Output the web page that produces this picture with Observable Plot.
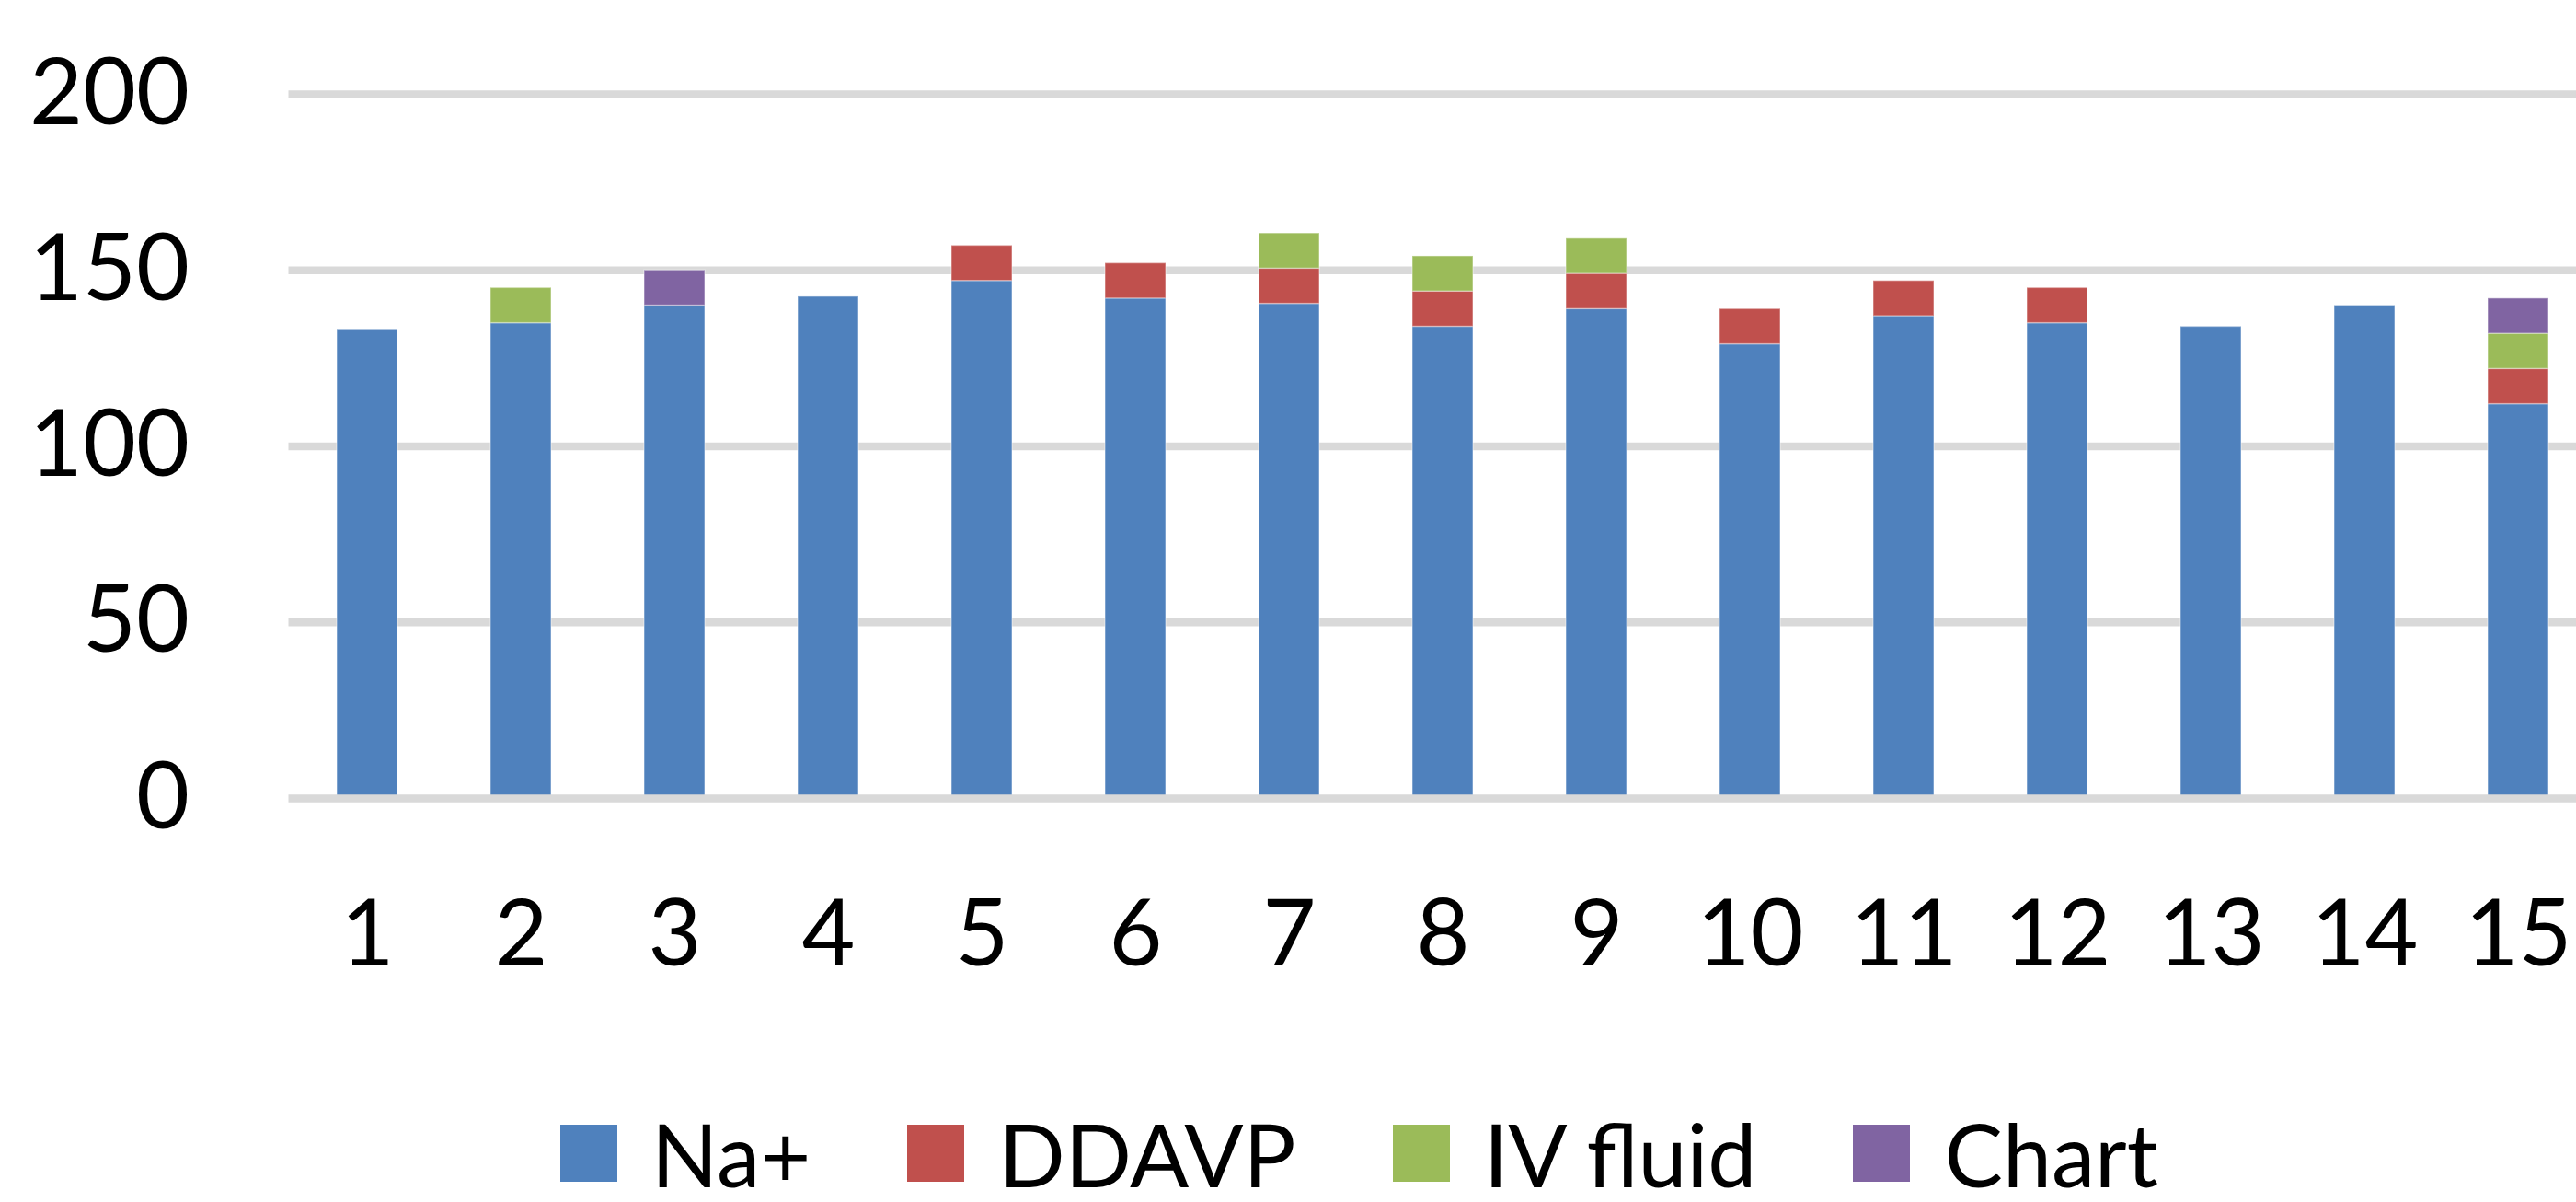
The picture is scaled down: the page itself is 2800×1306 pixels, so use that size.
<!DOCTYPE html>
<html>
<head>
<meta charset="utf-8">
<script src="https://cdn.jsdelivr.net/npm/d3@7"></script>
<script src="https://cdn.jsdelivr.net/npm/@observablehq/plot@0.6"></script>
<style>
  html, body { margin: 0; padding: 0; background: #fff; }
  #chart svg { display: block; overflow: hidden; }
  .legend { height: 106px; display: flex; align-items: center; padding-left: 609px;
            font-family: Lato, "Open Sans", sans-serif; font-size: 95px; color: #000; }
  .item { display: flex; align-items: center; margin-right: 105px; }
  .sw { width: 62px; height: 62px; margin-right: 37px; }
</style>
</head>
<body>
<div id="chart"></div>
<script>
const categories = [1, 2, 3, 4, 5, 6, 7, 8, 9, 10, 11, 12, 13, 14, 15];
const seriesNames = ["Na+", "DDAVP", "IV fluid", "Chart"];
const seriesColors = ["#4f81bd", "#c0504d", "#9bbb59", "#8064a2"];
const naValues      = [133, 135, 140, 142.5, 147, 142, 140.5, 134, 139, 129, 137, 135, 134, 140, 112];
const ddavpValues   = [0, 0, 0, 0, 10, 10, 10, 10, 10, 10, 10, 10, 0, 0, 10];
const ivFluidValues = [0, 10, 0, 0, 0, 0, 10, 10, 10, 0, 0, 0, 0, 0, 10];
const chartValues   = [0, 0, 10, 0, 0, 0, 0, 0, 0, 0, 0, 0, 0, 0, 10];
const yTicks = [0, 50, 100, 150, 200];

const seriesValues = [naValues, ddavpValues, ivFluidValues, chartValues];
const data = [];
categories.forEach((c, i) => {
  seriesNames.forEach((s, j) => {
    data.push({category: c, series: s, value: seriesValues[j][i]});
  });
});

const chart = Plot.plot({
  width: 2800,
  height: 1200,
  marginLeft: 313.5,
  marginRight: 0,
  marginTop: 102,
  marginBottom: 333,
  style: {fontFamily: "Lato, 'Open Sans', sans-serif", fontSize: "100px", color: "#000", background: "#fff"},
  x: {type: "band", domain: categories, range: [313.5, 2821.5], paddingInner: 0.605, paddingOuter: 0.3025, align: 0.5},
  y: {domain: [0, 200]},
  color: {domain: seriesNames, range: seriesColors},
  marks: [
    Plot.ruleY(yTicks.filter(d => d !== 0), {stroke: "#d9d9d9", strokeWidth: 8.5}),
    Plot.barY(data, {x: "category", y: "value", fill: "series", order: seriesNames, stroke: "#ffffff", strokeOpacity: 0.35, strokeWidth: 1.5}),
    Plot.ruleY([0], {stroke: "#d9d9d9", strokeWidth: 8.5}),
    Plot.axisY({ticks: yTicks, tickSize: 0, tickPadding: 108, fontSize: 100, tickFormat: d => String(d), label: null}),
    Plot.axisX({tickSize: 0, tickPadding: 110, fontSize: 100, tickFormat: d => String(d), label: null})
  ]
});
document.getElementById("chart").appendChild(chart);

const legend = document.createElement("div");
legend.className = "legend";
seriesNames.forEach((s, j) => {
  const item = document.createElement("div");
  item.className = "item";
  const sw = document.createElement("div");
  sw.className = "sw";
  sw.style.background = seriesColors[j];
  const t = document.createElement("span");
  t.textContent = s;
  item.appendChild(sw);
  item.appendChild(t);
  legend.appendChild(item);
});
document.getElementById("chart").appendChild(legend);
</script>
</body>
</html>
